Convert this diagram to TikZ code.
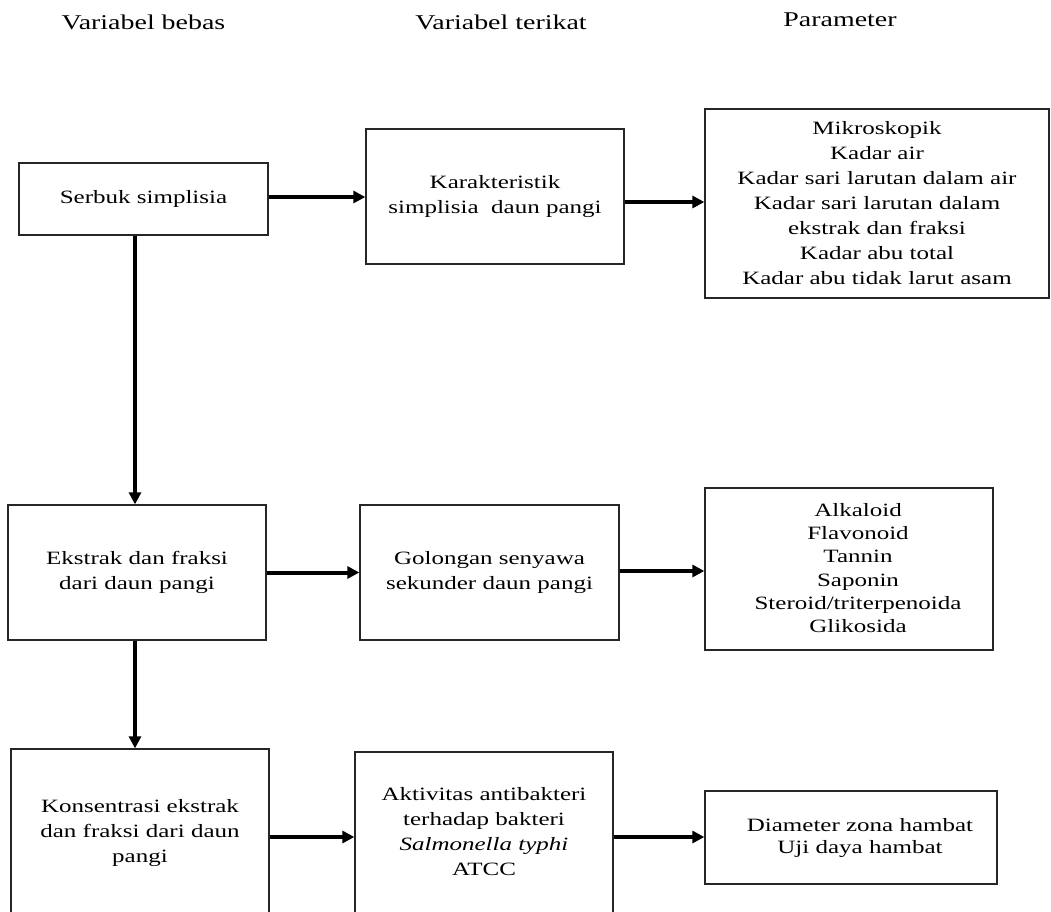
\documentclass[tikz,border=0pt]{standalone}
\usepackage{fontspec}
\setmainfont{Liberation Serif}[FakeStretch=1.33]
\usetikzlibrary{arrows.meta}
\tikzset{
  box/.style={draw=black!85, line width=1.3pt, rectangle, inner sep=0pt, align=center,
    font=\fontsize{18.8}{25}\selectfont},
  txt/.style={inner sep=0pt, align=center, font=\fontsize{18.8}{25}\selectfont},
  head/.style={inner sep=0pt, font=\fontsize{21}{25}\selectfont},
  arr/.style={line width=4pt, -{Triangle[length=12pt,width=12pt]}}
}
\begin{document}
\begin{tikzpicture}[x=1pt,y=-1pt]
\useasboundingbox (0,0) rectangle (1051,911);
\clip (0,0) rectangle (1051,911);
\fill[white] (0,0) rectangle (1051,911);
% headers
\node[head] (h1) at (143.5,22) {Variabel bebas};
\node[head] (h2) at (501,22) {Variabel terikat};
\node[head] (h3) at (840,20) {Parameter};
% row 1
\node[box, minimum width=249pt, minimum height=72pt] (A) at (143.5,199) {Serbuk simplisia};
\node[box, minimum width=258pt, minimum height=135pt] (B) at (495,196.5) {Karakteristik\\simplisia\ \ daun pangi};
\node[box, minimum width=344pt, minimum height=189pt] (C) at (877,203.5)
  {Mikroskopik\\Kadar air\\Kadar sari larutan dalam air\\Kadar sari larutan dalam\\ekstrak dan fraksi\\Kadar abu total\\Kadar abu tidak larut asam};
% row 2
\node[box, minimum width=258pt, minimum height=135pt] (D) at (137,572.5) {Ekstrak dan fraksi\\dari daun pangi};
\node[box, minimum width=259pt, minimum height=135pt] (E) at (489.5,572.5) {Golongan senyawa\\sekunder daun pangi};
\node[box, minimum width=288pt, minimum height=162pt] (F) at (849,569) {};
\node[txt, font=\fontsize{18.8}{23.2}\selectfont] (Ft) at (858,568)
  {Alkaloid\\Flavonoid\\Tannin\\Saponin\\Steroid/triterpenoida\\Glikosida};
% row 3
\node[box, minimum width=258pt, minimum height=176pt] (G) at (140,837) {};
\node[txt] (Gt) at (140,833) {Konsentrasi ekstrak\\dan fraksi dari daun\\pangi};
\node[box, minimum width=258pt, minimum height=170pt] (H) at (484,837) {};
\node[txt] (Ht) at (484,832) {Aktivitas antibakteri\\terhadap bakteri\\\textit{Salmonella typhi}\\ATCC};
\node[box, minimum width=292pt, minimum height=93pt] (I) at (851,837.5) {};
\node[txt, font=\fontsize{18.8}{22}\selectfont] (It) at (860,838) {Diameter zona hambat\\Uji daya hambat};
% connectors
\draw[arr] ([yshift=2pt]A.east) -- ([yshift=2pt]A.east -| B.west);
\draw[arr] ([yshift=-5.5pt]B.east) -- ([yshift=-5.5pt]B.east -| C.west);
\draw[arr] ([xshift=-8.5pt]A.south) -- ([xshift=-8.5pt]A.south |- D.north);
\draw[arr] (D.east) -- (E.west);
\draw[arr] ([yshift=1.5pt]E.east) -- ([yshift=1.5pt]E.east -| F.west);
\draw[arr] ([xshift=-2pt]D.south) -- ([xshift=-2pt]D.south |- G.north);
\draw[arr] (G.east) -- (G.east -| H.west);
\draw[arr] (H.east) -- (H.east -| I.west);
\end{tikzpicture}
\end{document}
